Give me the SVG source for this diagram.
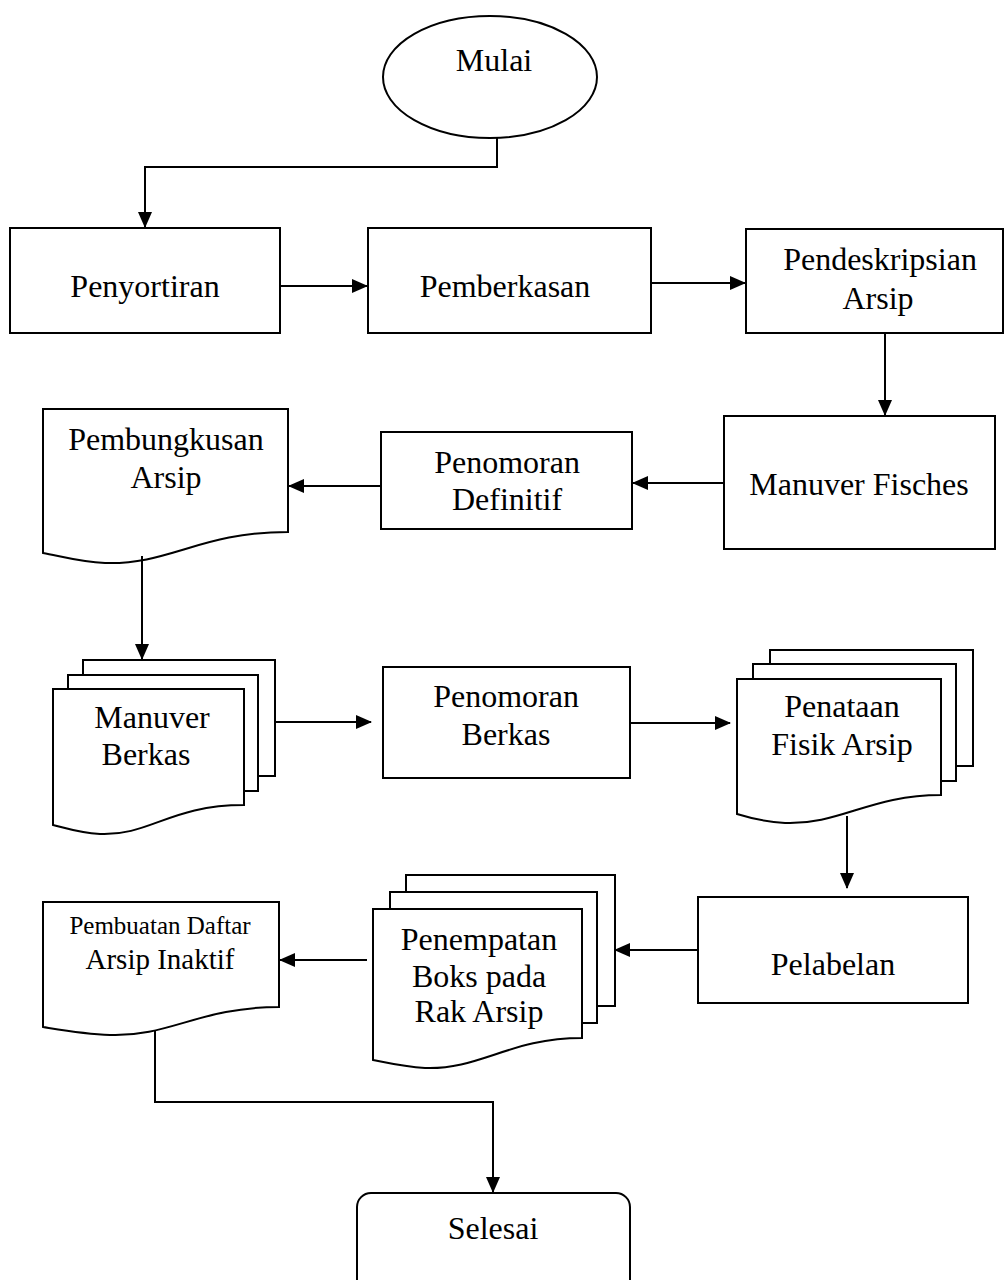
<svg xmlns="http://www.w3.org/2000/svg" width="1007" height="1280" viewBox="0 0 1007 1280">
<defs>
<style>
.s{fill:#fff;stroke:#000;stroke-width:2}
.c{fill:none;stroke:#000;stroke-width:2}
text{font-family:"Liberation Serif","Times New Roman",serif;font-size:32px;fill:#000;text-anchor:middle}
</style>
<marker id="a" markerWidth="16" markerHeight="14" refX="15" refY="7" orient="auto" markerUnits="userSpaceOnUse">
<path d="M0,0 L16,7 L0,14 Z" fill="#000"/>
</marker>
</defs>
<rect width="1007" height="1280" fill="#fff"/>
<g id="mulai"><ellipse class="s" cx="490" cy="77" rx="107" ry="61"/><text x="494" y="71">Mulai</text></g>
<g id="penyortiran"><rect class="s" x="10" y="228" width="270" height="105"/><text x="145" y="297">Penyortiran</text></g>
<g id="pemberkasan"><rect class="s" x="368" y="228" width="283" height="105"/><text x="505" y="297">Pemberkasan</text></g>
<g id="pendeskripsian"><rect class="s" x="746" y="229" width="257" height="104"/><text x="880" y="270">Pendeskripsian</text><text x="878" y="309">Arsip</text></g>
<g id="manuver-fisches"><rect class="s" x="724" y="416" width="271" height="133"/><text x="859" y="495">Manuver Fisches</text></g>
<g id="penomoran-definitif"><rect class="s" x="381" y="432" width="251" height="97"/><text x="507" y="473">Penomoran</text><text x="507" y="510">Definitif</text></g>
<g id="pembungkusan"><path class="s" d="M43,409 H288 V532 C200,532 170,565 105,563 C80,562 60,556 43,553 Z"/><text x="166" y="450">Pembungkusan</text><text x="166" y="488">Arsip</text></g>
<g id="manuver-berkas">
<rect class="s" x="83" y="660" width="192" height="116"/>
<rect class="s" x="68" y="675" width="190" height="116"/>
<path class="s" d="M53,689 H244 V805 C170,805 150,836 100,834 C80,833 65,828 53,825 Z"/>
<text x="152" y="728">Manuver</text><text x="146" y="765">Berkas</text></g>
<g id="penomoran-berkas"><rect class="s" x="383" y="667" width="247" height="111"/><text x="506" y="707">Penomoran</text><text x="506" y="745">Berkas</text></g>
<g id="penataan">
<rect class="s" x="770" y="650" width="203" height="116"/>
<rect class="s" x="753" y="664" width="203" height="117"/>
<path class="s" d="M737,679 H941 V795 C870,795 840,825 785,823 C765,822 750,818 737,814 Z"/>
<text x="842" y="717">Penataan</text><text x="842" y="755">Fisik Arsip</text></g>
<g id="pelabelan"><rect class="s" x="698" y="897" width="270" height="106"/><text x="833" y="975">Pelabelan</text></g>
<g id="penempatan">
<rect class="s" x="406" y="875" width="209" height="131"/>
<rect class="s" x="390" y="892" width="207" height="131"/>
<path class="s" d="M373,909 H582 V1038 C510,1038 480,1070 425,1068 C405,1067 388,1063 373,1060 Z"/>
<text x="479" y="950">Penempatan</text><text x="479" y="987">Boks pada</text><text x="479" y="1022">Rak Arsip</text></g>
<g id="pembuatan"><path class="s" d="M43,902 H279 V1007 C200,1007 170,1037 110,1035 C85,1034 62,1030 43,1027 Z"/><text x="160" y="934" style="font-size:25px">Pembuatan Daftar</text><text x="160" y="969" style="font-size:29px">Arsip Inaktif</text></g>
<g id="selesai"><rect class="s" x="357" y="1193" width="273" height="100" rx="14"/><text x="493" y="1239">Selesai</text></g>
<g id="connectors" class="c">
<path class="c" d="M497,138 V167 H145 V227" marker-end="url(#a)"/>
<path class="c" d="M280,286 H367" marker-end="url(#a)"/>
<path class="c" d="M651,283 H745" marker-end="url(#a)"/>
<path class="c" d="M885,333 V415" marker-end="url(#a)"/>
<path class="c" d="M724,483 H633" marker-end="url(#a)"/>
<path class="c" d="M381,486 H289" marker-end="url(#a)"/>
<path class="c" d="M142,556 V659" marker-end="url(#a)"/>
<path class="c" d="M275,722 H371" marker-end="url(#a)"/>
<path class="c" d="M630,723 H730" marker-end="url(#a)"/>
<path class="c" d="M847,816 V888" marker-end="url(#a)"/>
<path class="c" d="M698,950 H615" marker-end="url(#a)"/>
<path class="c" d="M367,960 H280" marker-end="url(#a)"/>
<path class="c" d="M155,1031 V1102 H493 V1192" marker-end="url(#a)"/>
</g>
</svg>
